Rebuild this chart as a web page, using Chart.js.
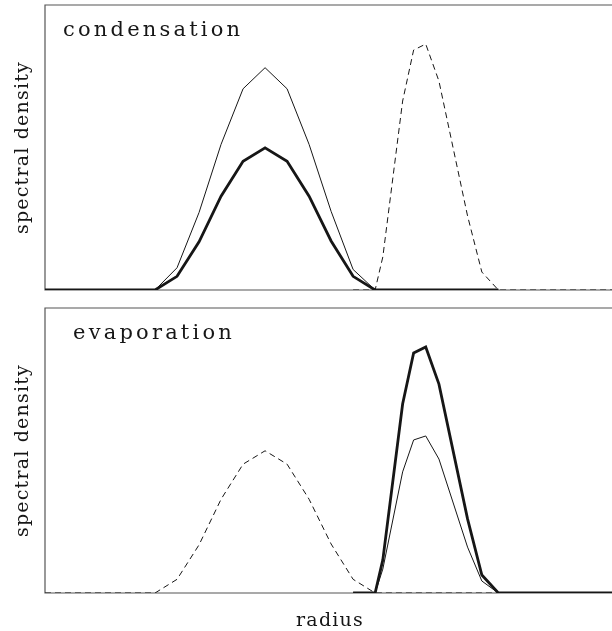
<!DOCTYPE html>
<html>
<head>
<meta charset="utf-8">
<script src="https://cdn.jsdelivr.net/npm/chart.js@4.4.1/dist/chart.umd.min.js"></script>
<style>
  html, body { margin: 0; padding: 0; background: #fff; overflow: hidden; width: 612px; height: 631px; }
  .panel { position: absolute; left: 0; }
  #top { top: 0; }
  #bottom { top: 300px; }
</style>
</head>
<body>
<div class="panel" id="top"><canvas id="cTop" width="616" height="300"></canvas></div>
<div class="panel" id="bottom"><canvas id="cBottom" width="616" height="331"></canvas></div>
<script>
// Radius grid (arbitrary units) for the broad spectrum
const broadRadius = [0, 10, 12, 14, 16, 18, 20, 22, 24, 26, 28, 30, 41.2];
// Broad spectrum, larger amplitude
const broadHigh = [0, 0, 0.078, 0.272, 0.511, 0.706, 0.780, 0.706, 0.511, 0.276, 0.072, 0, 0];
// Broad spectrum, smaller amplitude
const broadLow  = [0, 0, 0.048, 0.169, 0.329, 0.452, 0.499, 0.452, 0.329, 0.172, 0.048, 0, 0];

// Radius grid for the narrow spectrum
const narrowRadius = [28, 30, 30.7, 32.5, 33.5, 34.6, 35.8, 38.4, 39.7, 41.2, 51.8];
// Narrow spectrum, larger amplitude
const narrowHigh = [0, 0, 0.116, 0.663, 0.842, 0.863, 0.733, 0.260, 0.063, 0, 0];
// Narrow spectrum, smaller amplitude
const narrowLow  = [0, 0, 0.084, 0.425, 0.537, 0.551, 0.470, 0.161, 0.042, 0, 0];

const panelTitles = ['condensation', 'evaporation'];
const yTitle = 'spectral density';
const xTitle = 'radius';

const SERIF = "'DejaVu Serif', 'Liberation Serif', serif";
const INK = '#161616';
const FRAME = '#555555';

function toPoints(xs, ys) {
  return xs.map((x, i) => ({ x: x, y: ys[i] }));
}

function thin(data)   { return { data, borderColor: INK, borderWidth: 1,   pointRadius: 0, tension: 0 }; }
function thick(data)  { return { data, borderColor: INK, borderWidth: 2.8, pointRadius: 0, tension: 0 }; }
function dashed(data) { return { data, borderColor: INK, borderWidth: 1,   borderDash: [6, 4], pointRadius: 0, tension: 0 }; }

// Frame on the left, top and bottom of the plotting area
const framePlugin = {
  id: 'frame',
  beforeDraw(chart) {
    chart.ctx.letterSpacing = '1.2px';
  },
  beforeDatasetsDraw(chart) {
    const { ctx, chartArea: a } = chart;
    ctx.save();
    ctx.strokeStyle = FRAME;
    ctx.lineWidth = 1.2;
    ctx.beginPath();
    ctx.moveTo(a.right, a.top);
    ctx.lineTo(a.left, a.top);
    ctx.lineTo(a.left, a.bottom);
    ctx.lineTo(a.right, a.bottom);
    ctx.stroke();
    ctx.restore();
  }
};

// Panel label written inside the plotting area
const labelPlugin = {
  id: 'panelLabel',
  afterDatasetsDraw(chart, args, opts) {
    const { ctx, chartArea: a } = chart;
    ctx.save();
    ctx.letterSpacing = opts.spacing + 'px';
    ctx.font = opts.size + 'px ' + SERIF;
    ctx.fillStyle = INK;
    ctx.textBaseline = 'alphabetic';
    ctx.textAlign = 'left';
    ctx.fillText(opts.text, a.left + opts.dx, a.top + opts.dy);
    ctx.restore();
  }
};

function makeChart(canvasId, datasets, label, labelDx, padTop, xAxisHeight, showXTitle) {
  return new Chart(document.getElementById(canvasId), {
    type: 'line',
    data: { datasets },
    plugins: [framePlugin, labelPlugin],
    options: {
      responsive: false,
      animation: false,
      events: [],
      layout: { padding: { top: padTop, right: 1, left: 0, bottom: 0 } },
      plugins: {
        legend: { display: false },
        tooltip: { enabled: false },
        panelLabel: { text: label, dx: labelDx, dy: 31, size: 21, spacing: 3.2 }
      },
      scales: {
        x: {
          type: 'linear', min: 0, max: 51.8,
          ticks: { display: false },
          grid: { display: false },
          border: { display: false },
          afterFit(s) { s.height = xAxisHeight; },
          title: {
            display: showXTitle, text: xTitle, color: INK,
            font: { family: SERIF, size: 19, lineHeight: 1 },
            padding: { top: 0, bottom: 0 }
          }
        },
        y: {
          min: 0, max: 1,
          ticks: { display: false },
          grid: { display: false },
          border: { display: false },
          afterFit(s) { s.width = 45; },
          title: {
            display: true, text: yTitle, color: INK,
            font: { family: SERIF, size: 19, lineHeight: 1.2 },
            padding: { top: 12, bottom: 0 }
          }
        }
      }
    }
  });
}

// Condensation: broad spectra solid, narrow spectrum dashed
makeChart('cTop', [
  thin(toPoints(broadRadius, broadHigh)),
  thick(toPoints(broadRadius, broadLow)),
  dashed(toPoints(narrowRadius, narrowHigh))
], panelTitles[0], 18, 5, 10, false);

// Evaporation: broad spectrum dashed, narrow spectra solid
makeChart('cBottom', [
  dashed(toPoints(broadRadius, broadLow)),
  thin(toPoints(narrowRadius, narrowLow)),
  thick(toPoints(narrowRadius, narrowHigh))
], panelTitles[1], 28, 8, 38, true);
</script>
</body>
</html>
